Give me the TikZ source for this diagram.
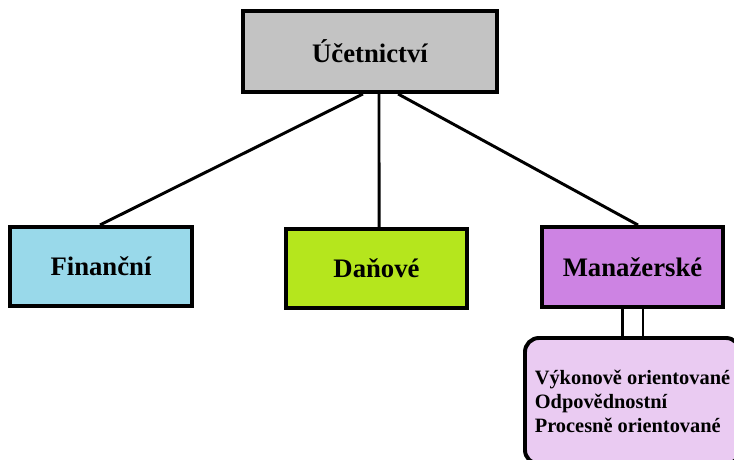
\documentclass[tikz,border=0pt]{standalone}
\usepackage{fontspec}
\setmainfont{Liberation Serif}
\usetikzlibrary{backgrounds}
\definecolor{headgray}{HTML}{C3C3C3}
\definecolor{finblue}{HTML}{99D9EA}
\definecolor{dangreen}{HTML}{B5E61D}
\definecolor{manpurple}{HTML}{CD83E3}
\definecolor{sublilac}{HTML}{EACBF2}
\begin{document}
\begin{tikzpicture}[x=0.025cm,y=-0.025cm]
\tikzstyle{box} = [draw,line width=2.8pt,minimum width=4.53cm,minimum height=1.98cm,font=\fontsize{19}{23}\selectfont\bfseries];
\tikzstyle{link} = [line width=2.1pt];
\tikzstyle{sublist} = [draw,line width=2.8pt,rounded corners=10pt,fill=sublilac,align=left,minimum width=5.375cm,minimum height=3.15cm,font=\fontsize{14.5}{17}\selectfont\bfseries];

\useasboundingbox (0,0) rectangle (734,459);
\clip (0,0) rectangle (734,459);

\node [box,fill=headgray,minimum width=6.35cm,minimum height=2.025cm] (ucet) at (370,51.5) {Účetnictví};
\node [box,fill=finblue] (fin) at (101,266.5) {Finanční};
\node [box,fill=dangreen] (dan) at (376.5,268.5) {Daňové};
\node [box,fill=manpurple,minimum height=2cm] (man) at (632.5,267) {Manažerské};
\node [sublist] (sub) at (632.5,401) {Výkonově orientované\\Odpovědnostní\\Procesně orientované};

\draw [link] ([xshift=-5pt]ucet.south) -- ([xshift=-0.7pt]fin.north);
\draw [link] ([xshift=6.4pt]ucet.south) -- ([xshift=1.8pt]dan.north);
\draw [link] ([xshift=20pt]ucet.south) -- ([xshift=3.9pt]man.north);
\begin{scope}[on background layer]
\draw [link,double,double distance=12.8pt] (man) -- (sub);
\end{scope}
\end{tikzpicture}
\end{document}
